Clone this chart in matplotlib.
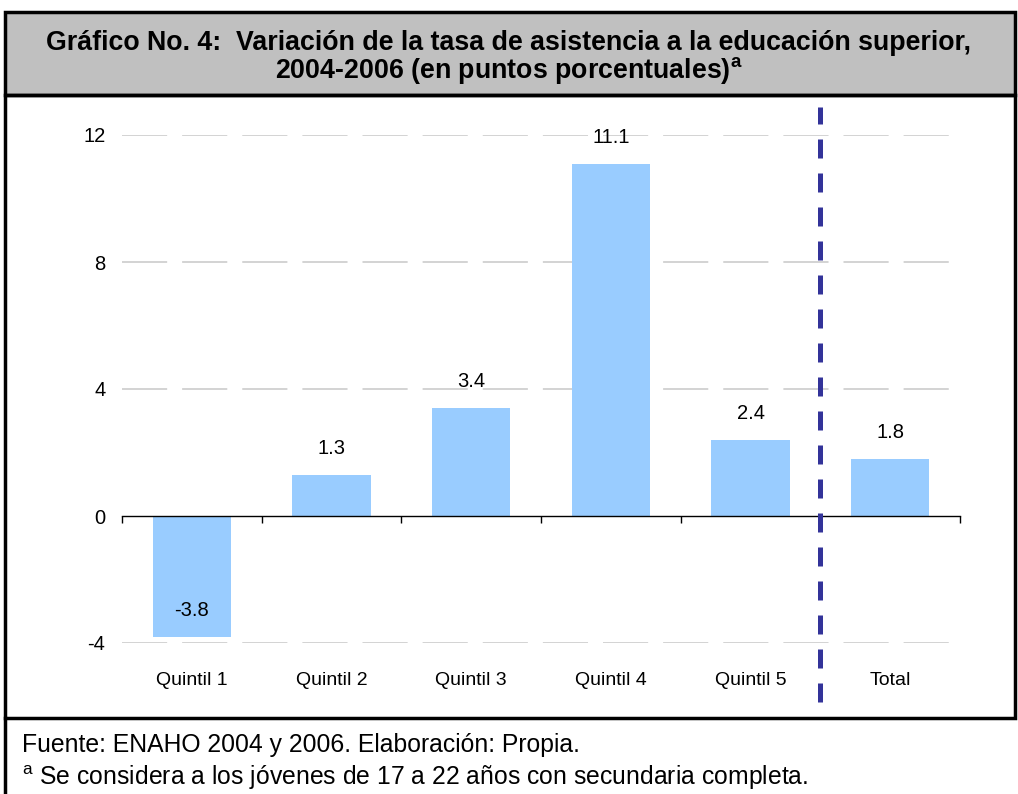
import matplotlib.pyplot as plt
from matplotlib.patches import Rectangle
from matplotlib.lines import Line2D

# data
categories = ['Quintil 1', 'Quintil 2', 'Quintil 3', 'Quintil 4', 'Quintil 5', 'Total']
values = [-3.8, 1.3, 3.4, 11.1, 2.4, 1.8]
y_ticks = [-4, 0, 4, 8, 12]

plt.rcParams['font.family'] = ['Liberation Sans', 'DejaVu Sans']
plt.rcParams['mathtext.fontset'] = 'custom'
plt.rcParams['mathtext.rm'] = 'Liberation Sans'
plt.rcParams['mathtext.bf'] = 'Liberation Sans:bold'

W, H = 1018, 794


def fx(x):
    return x / W


def fy(y):
    return 1 - y / H


fig = plt.figure(figsize=(W / 100, H / 100), dpi=100)

# frames around title, chart and footer
fig.add_artist(Rectangle((fx(5), fy(95)), fx(1015) - fx(5), fy(12) - fy(95),
                         transform=fig.transFigure, facecolor='#C0C0C0',
                         edgecolor='black', linewidth=2.5, zorder=0))
fig.add_artist(Rectangle((fx(5), fy(718)), fx(1015) - fx(5), fy(95) - fy(718),
                         transform=fig.transFigure, facecolor='none',
                         edgecolor='black', linewidth=2.5, zorder=0))
fig.add_artist(Line2D([fx(5), fx(5)], [fy(718), 0], transform=fig.transFigure,
                      color='black', linewidth=2.5))

fig.text(0.5, fy(43), 'Gráfico No. 4:  Variación de la tasa de asistencia a la educación superior,',
         ha='center', va='center', fontsize=19.3, fontweight='bold')
fig.text(0.5, fy(71), r'2004-2006 (en puntos porcentuales)$^{\mathbf{a}}$',
         ha='center', va='center', fontsize=19.3, fontweight='bold')

fig.text(fx(22), fy(745), 'Fuente: ENAHO 2004 y 2006. Elaboración: Propia.',
         ha='left', va='center', fontsize=17.8)
fig.text(fx(22), fy(778), r'$^{\mathrm{a}}$ Se considera a los jóvenes de 17 a 22 años con secundaria completa.',
         ha='left', va='center', fontsize=17.8)

ax = fig.add_axes([fx(122), fy(643), fx(960) - fx(122), fy(135) - fy(643)])
x = [i + 0.5 for i in range(len(categories))]
ax.bar(x, values, width=0.56, color='#99CCFF', zorder=2)

for xi, v in zip(x, values):
    ax.annotate(f'{v:.1f}', (xi, v), xytext=(0, 19), textcoords='offset points',
                ha='center', va='center', fontsize=14.5)

ax.set_xlim(0, len(categories))
ax.set_ylim(-4, 12)
ax.set_yticks(y_ticks)
ax.set_yticklabels([str(t) for t in y_ticks])
ax.set_xticks(x, categories)
ax.set_xticks(range(len(categories) + 1), minor=True)
ax.tick_params(axis='x', which='major', length=0, pad=112, labelsize=14)
ax.tick_params(axis='x', which='minor', length=5, width=1, direction='out')
ax.tick_params(axis='y', length=0, pad=12, labelsize=14.5)

for t in y_ticks:
    if t != 0:
        ax.axhline(t, color='#D0D0D0', linewidth=1.3, linestyle=(0, (25, 8.3)), zorder=1)

for s in ['top', 'right', 'left']:
    ax.spines[s].set_visible(False)
ax.spines['bottom'].set_position(('data', 0))
ax.spines['bottom'].set_linewidth(1)
ax.spines['bottom'].set_zorder(3)

ax.axvline(5, ymin=-0.116, ymax=1.055, color='#333399', linewidth=3.6,
           linestyle=(0, (3.8, 3)), clip_on=False, zorder=4)

fig.savefig('out.png', dpi=100)
